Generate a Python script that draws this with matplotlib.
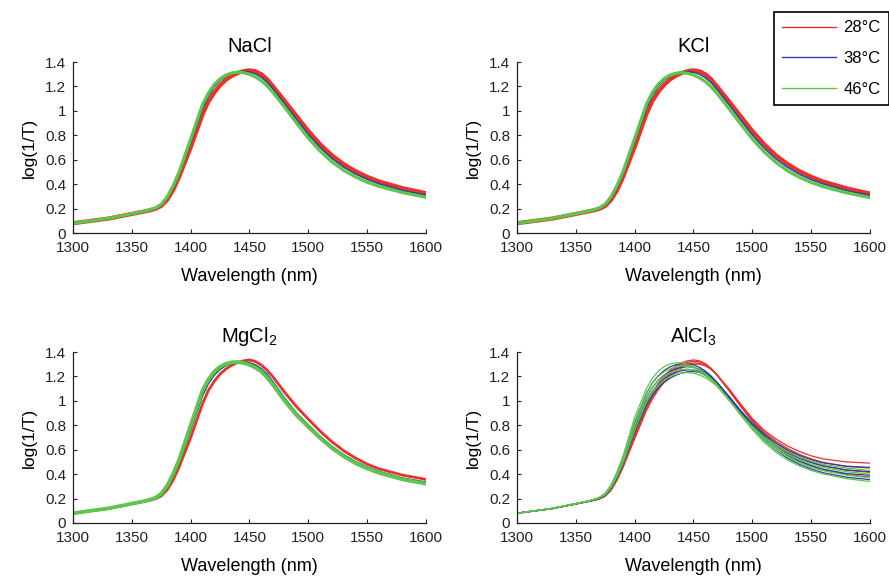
import numpy as np
import matplotlib
matplotlib.use("Agg")
from matplotlib import pyplot as plt
from matplotlib.lines import Line2D

plt.rcParams['font.family'] = ['Liberation Sans', 'DejaVu Sans']
plt.rcParams['mathtext.fontset'] = 'custom'
plt.rcParams['mathtext.rm'] = 'Liberation Sans'
plt.rcParams['mathtext.default'] = 'regular'

# wavelength grid (nm) the spectra were read at
wavelength = [1300, 1330, 1360, 1365, 1370, 1375, 1380, 1385, 1390, 1400, 1410, 1415,
              1420, 1425, 1430, 1435, 1440, 1445, 1450, 1455, 1460, 1465, 1470, 1480,
              1490, 1500, 1510, 1520, 1530, 1540, 1550, 1560, 1580, 1600]

temps = ['28°C', '38°C', '46°C']
colors = ['#e8322a', '#2c3ea8', '#5cc84a']

# NaCl (one curve per temperature, the band of spectra drawn thick)
nacl_28 = [[0.08, 0.118, 0.175, 0.185, 0.198, 0.222, 0.272, 0.35, 0.455, 0.70, 0.97, 1.075, 1.15, 1.21, 1.255, 1.287, 1.31, 1.325, 1.332, 1.324, 1.30, 1.258, 1.20, 1.08, 0.957, 0.835, 0.727, 0.636, 0.564, 0.506, 0.46, 0.422, 0.367, 0.326]]
nacl_38 = [[0.08, 0.119, 0.177, 0.188, 0.202, 0.23, 0.285, 0.372, 0.48, 0.745, 1.02, 1.12, 1.195, 1.248, 1.285, 1.306, 1.318, 1.322, 1.318, 1.303, 1.275, 1.233, 1.178, 1.055, 0.929, 0.806, 0.699, 0.61, 0.539, 0.483, 0.439, 0.403, 0.348, 0.309]]
nacl_46 = [[0.08, 0.12, 0.178, 0.19, 0.205, 0.235, 0.295, 0.385, 0.495, 0.77, 1.05, 1.145, 1.215, 1.263, 1.294, 1.31, 1.317, 1.312, 1.30, 1.278, 1.247, 1.204, 1.15, 1.028, 0.90, 0.776, 0.67, 0.582, 0.513, 0.459, 0.416, 0.382, 0.331, 0.292]]

# KCl
kcl_28 = [[0.08, 0.118, 0.175, 0.185, 0.198, 0.222, 0.272, 0.35, 0.455, 0.705, 0.975, 1.08, 1.155, 1.213, 1.257, 1.288, 1.31, 1.325, 1.332, 1.324, 1.30, 1.258, 1.20, 1.08, 0.957, 0.835, 0.727, 0.636, 0.564, 0.506, 0.46, 0.422, 0.366, 0.323]]
kcl_38 = [[0.08, 0.119, 0.177, 0.188, 0.202, 0.23, 0.285, 0.372, 0.48, 0.75, 1.025, 1.125, 1.198, 1.25, 1.285, 1.306, 1.317, 1.32, 1.316, 1.30, 1.272, 1.23, 1.175, 1.052, 0.925, 0.802, 0.695, 0.607, 0.537, 0.481, 0.437, 0.402, 0.347, 0.307]]
kcl_46 = [[0.08, 0.12, 0.178, 0.19, 0.206, 0.237, 0.298, 0.39, 0.50, 0.775, 1.055, 1.15, 1.218, 1.264, 1.293, 1.308, 1.313, 1.307, 1.294, 1.271, 1.24, 1.196, 1.142, 1.02, 0.892, 0.77, 0.664, 0.578, 0.509, 0.456, 0.414, 0.38, 0.329, 0.29]]

# MgCl2
mgcl2_28 = [[0.08, 0.118, 0.175, 0.185, 0.198, 0.222, 0.272, 0.35, 0.455, 0.70, 0.975, 1.085, 1.16, 1.22, 1.262, 1.293, 1.315, 1.328, 1.335, 1.322, 1.293, 1.25, 1.195, 1.068, 0.952, 0.85, 0.752, 0.665, 0.592, 0.532, 0.482, 0.444, 0.392, 0.357]]
mgcl2_38 = [[0.08, 0.119, 0.177, 0.188, 0.202, 0.23, 0.288, 0.378, 0.49, 0.76, 1.04, 1.14, 1.21, 1.258, 1.29, 1.31, 1.32, 1.32, 1.313, 1.294, 1.263, 1.218, 1.155, 1.02, 0.90, 0.803, 0.71, 0.628, 0.56, 0.504, 0.459, 0.422, 0.368, 0.335]]
mgcl2_46 = [[0.08, 0.12, 0.178, 0.19, 0.207, 0.24, 0.305, 0.40, 0.515, 0.80, 1.085, 1.175, 1.24, 1.28, 1.305, 1.316, 1.318, 1.31, 1.295, 1.272, 1.24, 1.19, 1.13, 0.997, 0.882, 0.786, 0.695, 0.613, 0.546, 0.49, 0.446, 0.41, 0.357, 0.322]]

# AlCl3 (four concentrations per temperature, drawn as thin lines)
alcl3_28 = [[0.08, 0.118, 0.176, 0.187, 0.20, 0.228, 0.285, 0.375, 0.485, 0.74, 0.975, 1.065, 1.14, 1.20, 1.248, 1.285, 1.312, 1.328, 1.335, 1.328, 1.305, 1.265, 1.21, 1.085, 0.955, 0.83, 0.72, 0.635, 0.567, 0.514, 0.47, 0.437, 0.397, 0.375],
            [0.08, 0.118, 0.175, 0.186, 0.198, 0.225, 0.278, 0.365, 0.472, 0.72, 0.953, 1.045, 1.122, 1.183, 1.232, 1.27, 1.298, 1.316, 1.324, 1.32, 1.302, 1.265, 1.212, 1.09, 0.962, 0.84, 0.735, 0.653, 0.59, 0.54, 0.50, 0.47, 0.432, 0.415],
            [0.08, 0.118, 0.175, 0.185, 0.197, 0.222, 0.273, 0.357, 0.462, 0.705, 0.937, 1.03, 1.107, 1.168, 1.217, 1.255, 1.284, 1.302, 1.31, 1.308, 1.293, 1.26, 1.213, 1.095, 0.968, 0.848, 0.748, 0.67, 0.61, 0.562, 0.525, 0.497, 0.463, 0.45],
            [0.08, 0.117, 0.174, 0.184, 0.196, 0.22, 0.268, 0.35, 0.452, 0.69, 0.92, 1.013, 1.09, 1.152, 1.202, 1.24, 1.27, 1.29, 1.30, 1.30, 1.287, 1.257, 1.213, 1.10, 0.975, 0.855, 0.76, 0.688, 0.63, 0.585, 0.55, 0.525, 0.50, 0.49]]
alcl3_38 = [[0.08, 0.12, 0.179, 0.191, 0.207, 0.24, 0.305, 0.405, 0.525, 0.825, 1.06, 1.145, 1.205, 1.248, 1.278, 1.296, 1.305, 1.305, 1.295, 1.275, 1.245, 1.203, 1.15, 1.03, 0.905, 0.785, 0.68, 0.597, 0.53, 0.48, 0.442, 0.412, 0.375, 0.355],
            [0.08, 0.119, 0.178, 0.19, 0.205, 0.235, 0.297, 0.393, 0.51, 0.795, 1.025, 1.108, 1.168, 1.21, 1.24, 1.262, 1.275, 1.28, 1.275, 1.26, 1.235, 1.198, 1.15, 1.033, 0.91, 0.795, 0.697, 0.617, 0.553, 0.505, 0.468, 0.44, 0.405, 0.39],
            [0.08, 0.119, 0.177, 0.189, 0.203, 0.231, 0.29, 0.382, 0.495, 0.77, 0.995, 1.075, 1.135, 1.178, 1.21, 1.232, 1.247, 1.254, 1.253, 1.242, 1.222, 1.19, 1.147, 1.035, 0.915, 0.805, 0.712, 0.636, 0.576, 0.53, 0.494, 0.467, 0.435, 0.42],
            [0.08, 0.118, 0.176, 0.187, 0.201, 0.227, 0.283, 0.372, 0.482, 0.745, 0.965, 1.045, 1.105, 1.15, 1.185, 1.21, 1.228, 1.238, 1.24, 1.232, 1.215, 1.187, 1.148, 1.04, 0.922, 0.815, 0.727, 0.655, 0.598, 0.553, 0.518, 0.492, 0.465, 0.455]]
alcl3_46 = [[0.08, 0.12, 0.18, 0.193, 0.21, 0.245, 0.315, 0.42, 0.545, 0.865, 1.10, 1.185, 1.243, 1.28, 1.302, 1.312, 1.31, 1.30, 1.28, 1.255, 1.222, 1.18, 1.13, 1.01, 0.885, 0.765, 0.662, 0.58, 0.515, 0.467, 0.43, 0.402, 0.363, 0.34],
            [0.08, 0.12, 0.179, 0.192, 0.208, 0.24, 0.305, 0.405, 0.525, 0.83, 1.065, 1.145, 1.20, 1.237, 1.262, 1.278, 1.285, 1.283, 1.272, 1.25, 1.22, 1.18, 1.13, 1.01, 0.888, 0.772, 0.676, 0.60, 0.54, 0.493, 0.456, 0.428, 0.392, 0.37],
            [0.08, 0.119, 0.178, 0.19, 0.206, 0.236, 0.298, 0.392, 0.507, 0.80, 1.028, 1.108, 1.163, 1.202, 1.23, 1.248, 1.258, 1.26, 1.252, 1.233, 1.206, 1.17, 1.123, 1.008, 0.892, 0.78, 0.69, 0.618, 0.56, 0.517, 0.481, 0.454, 0.42, 0.40],
            [0.08, 0.119, 0.177, 0.189, 0.204, 0.232, 0.29, 0.38, 0.49, 0.76, 0.99, 1.07, 1.127, 1.17, 1.20, 1.218, 1.228, 1.231, 1.226, 1.212, 1.19, 1.158, 1.118, 1.01, 0.895, 0.79, 0.705, 0.637, 0.582, 0.54, 0.506, 0.48, 0.45, 0.43]]

band_lw = [3.0, 1.1, 2.3]
thin_lw = [0.9, 0.9, 0.9]
panels = [('NaCl', [nacl_28, nacl_38, nacl_46], band_lw),
          ('KCl', [kcl_28, kcl_38, kcl_46], band_lw),
          ('MgCl$_2$', [mgcl2_28, mgcl2_38, mgcl2_46], [2.0, 1.1, 2.7]),
          ('AlCl$_3$', [alcl3_28, alcl3_38, alcl3_46], thin_lw)]

W, H = 889, 580
# axes boxes in pixels: left, right, top, bottom
boxes = [(73, 426, 62, 233), (517, 870, 62, 233),
         (73, 426, 352, 523), (517, 870, 352, 523)]

fig = plt.figure(figsize=(W / 100, H / 100), dpi=100)

for (title, sets, lws), (l, r, t, b) in zip(panels, boxes):
    ax = fig.add_axes([l / W, 1 - b / H, (r - l) / W, (b - t) / H])
    for curves, c, lw in zip(sets, colors, lws):
        for y in curves:
            ax.plot(wavelength, y, color=c, lw=lw, solid_joinstyle='round')
    ax.set_xlim(1300, 1600)
    ax.set_ylim(0, 1.4)
    ax.set_xticks(np.arange(1300, 1601, 50))
    ax.set_yticks([0, 0.2, 0.4, 0.6, 0.8, 1, 1.2, 1.4])
    ax.set_yticklabels(['0', '0.2', '0.4', '0.6', '0.8', '1', '1.2', '1.4'])
    ax.spines['top'].set_visible(False)
    ax.spines['right'].set_visible(False)
    for s in ['left', 'bottom']:
        ax.spines[s].set_linewidth(0.9)
        ax.spines[s].set_color('#222222')
    ax.tick_params(direction='in', length=3, width=0.8, labelsize=11, pad=6, colors='#222222')
    ax.tick_params(axis='y', pad=5)
    ax.set_title(title, fontsize=14.5, pad=7)
    ax.set_xlabel('Wavelength (nm)', fontsize=13, labelpad=9)
    ax.set_ylabel('log(1/T)', fontsize=12.5, labelpad=6)

handles = [Line2D([0], [0], color=c, lw=1) for c in colors]
leg = fig.legend(handles, temps, loc='upper left', bbox_to_anchor=(774 / W, 1 - 12 / H),
                 frameon=True, fancybox=False, edgecolor='black', framealpha=1,
                 fontsize=12, handlelength=3.2, handletextpad=0.45, labelspacing=0.95,
                 borderpad=0.5, borderaxespad=0)
leg.get_frame().set_linewidth(1.2)

fig.savefig('out.png', dpi=100)
